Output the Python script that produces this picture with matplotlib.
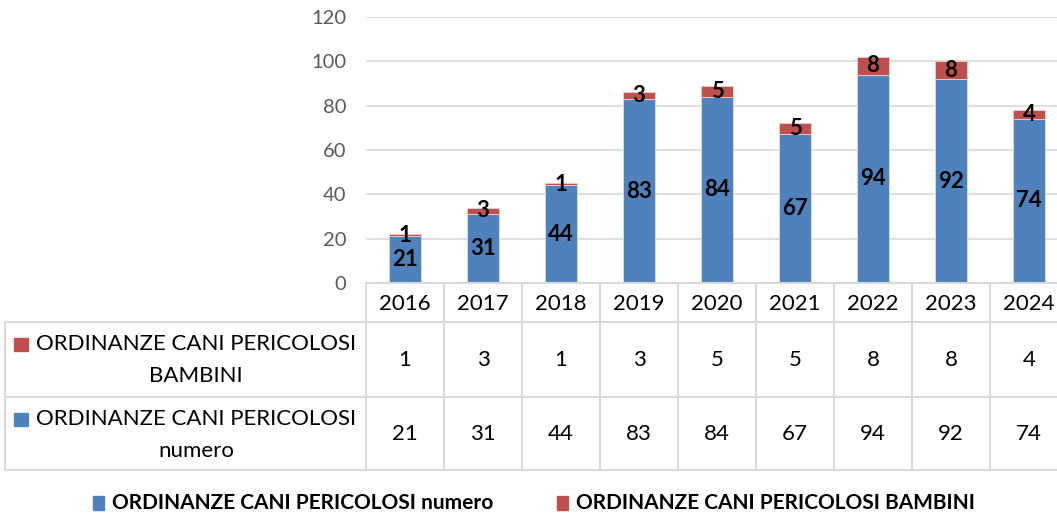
import matplotlib.pyplot as plt
from matplotlib.patches import Rectangle

plt.rcParams['font.family'] = ['Lato', 'DejaVu Sans']

# dati
anni = ['2016', '2017', '2018', '2019', '2020', '2021', '2022', '2023', '2024']
numero = [21, 31, 44, 83, 84, 67, 94, 92, 74]
bambini = [1, 3, 1, 3, 5, 5, 8, 8, 4]
nome_numero = 'ORDINANZE CANI PERICOLOSI numero'
nome_bambini = 'ORDINANZE CANI PERICOLOSI BAMBINI'
yticks = [0, 20, 40, 60, 80, 100, 120]

BLU = '#4F81BD'
ROSSO = '#C0504D'
GRIGIO = '#D9D9D9'

W, H = 1057, 520
fig = plt.figure(figsize=(W / 100, H / 100), dpi=100)

# area del grafico (in pixel)
x0, col_w = 366, 78
y_top, y_zero = 17, 283
ax = fig.add_axes([x0 / W, 1 - y_zero / H, len(anni) * col_w / W, (y_zero - y_top) / H])
ax.set_xlim(-0.5, len(anni) - 0.5)
ax.set_ylim(0, 120)

xs = list(range(len(anni)))
ax.bar(xs, numero, width=0.4, color=BLU, edgecolor='#D5E0EE', linewidth=0.6, zorder=3)
ax.bar(xs, bambini, width=0.4, bottom=numero, color=ROSSO, edgecolor='#ECCFCE', linewidth=0.6, zorder=3)

for i in xs:
    ax.text(i, numero[i] / 2, str(numero[i]), ha='center', va='center',
            fontsize=16, fontweight='bold', color='black', zorder=4)
    ax.text(i, numero[i] + bambini[i] / 2, str(bambini[i]), ha='center', va='center',
            fontsize=16, fontweight='bold', color='black', zorder=4)

ax.set_yticks(yticks)
ax.set_yticklabels([str(v) for v in yticks], fontsize=14.5, color='#595959')
ax.tick_params(axis='y', length=0, pad=14)
ax.set_xticks([])
ax.yaxis.grid(True, color=GRIGIO, linewidth=1.2, zorder=0)
for s in ax.spines.values():
    s.set_visible(False)

# tabella dati, disegnata in pixel
tab = fig.add_axes([0, 0, 1, 1], zorder=5)
tab.set_xlim(0, W)
tab.set_ylim(H, 0)
tab.axis('off')
tab.patch.set_alpha(0)

left_x = 5
r_head, r1, r2, r_end = 283, 322, 397, 470
x_end = x0 + len(anni) * col_w
lw = 1.5
fs_tab = 16

# linee orizzontali
tab.plot([x0, x_end], [r_head, r_head], color=GRIGIO, lw=lw)
for yy in (r1, r2, r_end):
    tab.plot([left_x, x_end], [yy, yy], color=GRIGIO, lw=lw)
# linee verticali
tab.plot([left_x, left_x], [r1, r_end], color=GRIGIO, lw=lw)
for k in range(len(anni) + 1):
    xx = x0 + k * col_w
    tab.plot([xx, xx], [r_head, r_end], color=GRIGIO, lw=lw)

for k, a in enumerate(anni):
    cx = x0 + (k + 0.5) * col_w
    tab.text(cx, (r_head + r1) / 2 + 1, a, ha='center', va='center', fontsize=fs_tab, color='black')
    tab.text(cx, (r1 + r2) / 2, str(bambini[k]), ha='center', va='center', fontsize=fs_tab, color='black')
    tab.text(cx, (r2 + r_end) / 2, str(numero[k]), ha='center', va='center', fontsize=fs_tab, color='black')

cx_left = 196
righe = [(nome_bambini, ROSSO, r1, r2), (nome_numero, BLU, r2, r_end)]
for nome, col, ya, yb in righe:
    parte1 = ' '.join(nome.split(' ')[:3])
    parte2 = nome.split(' ')[3]
    tab.text(cx_left, ya + 22, parte1, ha='center', va='center', fontsize=fs_tab, color='black')
    tab.text(cx_left, ya + 54, parte2, ha='center', va='center', fontsize=fs_tab, color='black')
    tab.add_patch(Rectangle((14, ya + 16), 14, 13, color=col))

# legenda in basso
leg_y = 503
for nome, col, xq in [(nome_numero, BLU, 93), (nome_bambini, ROSSO, 557)]:
    tab.add_patch(Rectangle((xq, leg_y - 7), 11, 14, color=col))
    tab.text(xq + 19, leg_y, nome, ha='left', va='center', fontsize=15,
             fontweight='bold', color='black')

fig.savefig('out.png', dpi=100)
